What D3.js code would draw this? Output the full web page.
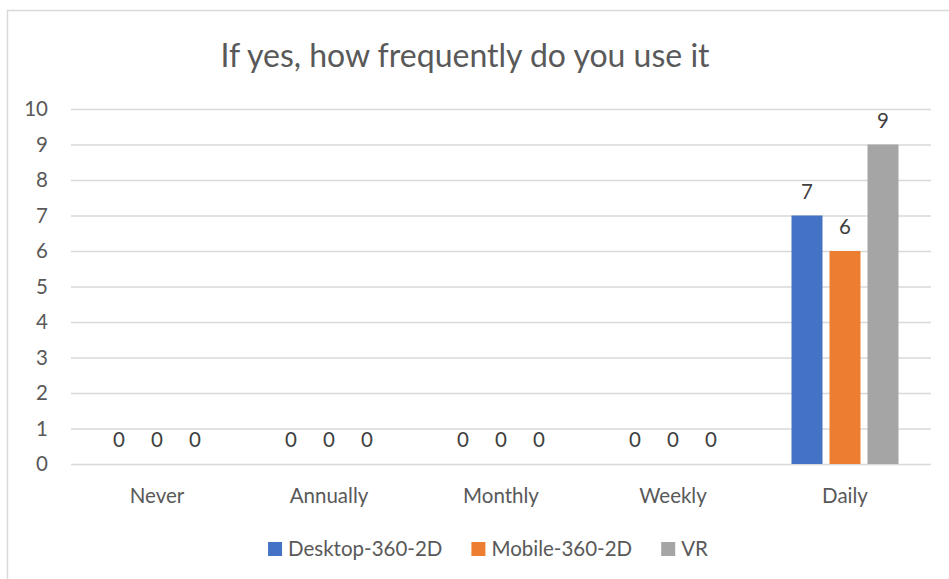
<!DOCTYPE html>
<html>
<head>
<meta charset="utf-8">
<script src="https://cdn.jsdelivr.net/npm/d3@7"></script>
<style>
  html, body { margin: 0; padding: 0; background: #fff; }
  svg { display: block; font-family: Lato, "Open Sans", sans-serif; }
</style>
</head>
<body>
<svg id="chart" width="949" height="579"></svg>
<script>
// Survey answers: "If yes, how frequently do you use it"
const categories = ["Never", "Annually", "Monthly", "Weekly", "Daily"];
const seriesNames = ["Desktop-360-2D", "Mobile-360-2D", "VR"];
const desktopValues = [0, 0, 0, 0, 7];
const mobileValues = [0, 0, 0, 0, 6];
const vrValues = [0, 0, 0, 0, 9];
const yTicks = [0, 1, 2, 3, 4, 5, 6, 7, 8, 9, 10];
const seriesColors = ["#4472C4", "#ED7D31", "#A5A5A5"];

const series = [
  { name: seriesNames[0], values: desktopValues, color: seriesColors[0] },
  { name: seriesNames[1], values: mobileValues, color: seriesColors[1] },
  { name: seriesNames[2], values: vrValues, color: seriesColors[2] }
];

const svg = d3.select("#chart");
const W = 949, H = 579;
const plot = { left: 71, right: 931, top: 109, bottom: 464 };
const labelSize = "20.5px";

svg.append("rect").attr("width", W).attr("height", H).attr("fill", "#fff");

// outer chart frame
svg.append("rect")
  .attr("x", 7.5).attr("y", 10.5)
  .attr("width", W + 20).attr("height", H + 20)
  .attr("fill", "none").attr("stroke", "#d9d9d9").attr("stroke-width", 1.5);

// title
svg.append("text")
  .attr("x", 465).attr("y", 67)
  .attr("text-anchor", "middle")
  .attr("fill", "#595959")
  .style("font-size", "32px")
  .text("If yes, how frequently do you use it");

const y = d3.scaleLinear().domain([0, 10]).range([plot.bottom, plot.top]);
const x0 = d3.scaleBand().domain(categories).range([plot.left, plot.right]).padding(0);
const groupPad = 32.5;
const x1 = d3.scaleBand().domain(seriesNames)
  .range([groupPad, x0.bandwidth() - groupPad])
  .paddingInner(7 / 38).paddingOuter(0);

// gridlines + y tick labels via axis
const yAxis = d3.axisLeft(y).tickValues(yTicks).tickSize(-(plot.right - plot.left)).tickPadding(23).tickFormat(d3.format("d"));
const gY = svg.append("g").attr("transform", `translate(${plot.left},0)`).call(yAxis);
gY.select(".domain").remove();
gY.selectAll(".tick line").attr("stroke", "#d9d9d9").attr("stroke-width", 1.5);
gY.selectAll(".tick text")
  .attr("fill", "#595959")
  .style("font-size", labelSize)
  .style("font-family", "Lato, 'Open Sans', sans-serif");

// category labels via bottom axis
const xAxis = d3.axisBottom(x0).tickSize(0).tickPadding(0);
const gX = svg.append("g").attr("transform", `translate(0,${plot.bottom})`).call(xAxis);
gX.select(".domain").remove();
gX.selectAll(".tick text")
  .attr("dy", null)
  .attr("y", 38.5)
  .attr("fill", "#595959")
  .style("font-size", labelSize)
  .style("font-family", "Lato, 'Open Sans', sans-serif");

// bars
const groups = svg.append("g").selectAll("g")
  .data(categories)
  .join("g")
  .attr("transform", d => `translate(${x0(d)},0)`);

groups.selectAll("rect")
  .data((c, i) => series.map(s => ({ name: s.name, value: s.values[i], color: s.color })))
  .join("rect")
  .attr("x", d => x1(d.name))
  .attr("width", x1.bandwidth())
  .attr("y", d => y(d.value))
  .attr("height", d => y(0) - y(d.value))
  .attr("fill", d => d.color);

// value labels above each bar
groups.selectAll("text")
  .data((c, i) => series.map(s => ({ name: s.name, value: s.values[i] })))
  .join("text")
  .attr("x", d => x1(d.name) + x1.bandwidth() / 2)
  .attr("y", d => y(d.value) - 17)
  .attr("text-anchor", "middle")
  .attr("fill", "#404040")
  .style("font-size", labelSize)
  .text(d => d.value);

// legend
const legend = svg.append("g");
const items = legend.selectAll("g").data(series).join("g");
items.append("rect")
  .attr("width", 14).attr("height", 14)
  .attr("y", 542)
  .attr("fill", d => d.color);
items.append("text")
  .attr("x", 20).attr("y", 556)
  .attr("fill", "#595959")
  .style("font-size", labelSize)
  .text(d => d.name);
let cx = 0;
const offsets = [];
items.each(function () {
  const w = this.querySelector("text").getComputedTextLength();
  offsets.push(cx);
  cx += 20 + w + 29;
});
const totalW = cx - 29;
const startX = 488 - totalW / 2;
items.attr("transform", (d, i) => `translate(${startX + offsets[i]},0)`);
</script>
</body>
</html>
